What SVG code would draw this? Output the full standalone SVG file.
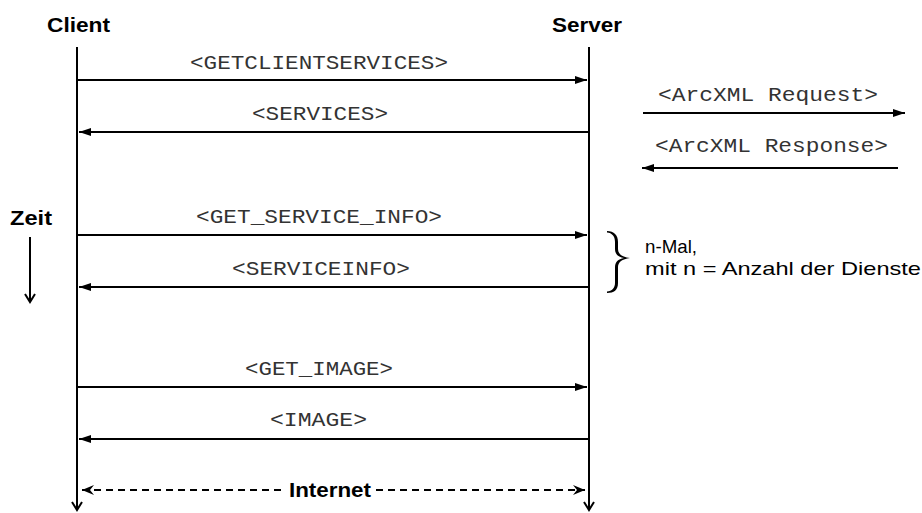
<svg xmlns="http://www.w3.org/2000/svg" width="922" height="513" viewBox="0 0 922 513">
  <style>
    .bg { fill: #ffffff; }
    .head { font-family: "Liberation Sans", Arial, sans-serif; font-weight: bold; font-size: 20px; fill: #000; }
    .msg { font-family: "Courier New", "Nimbus Mono PS", "Nimbus Mono L", FreeMono, "Liberation Mono", monospace; font-size: 20px; fill: #333; }
    .note { font-family: "Liberation Sans", Arial, sans-serif; font-size: 19px; fill: #000; }
    .life { stroke: #000; stroke-width: 2; fill: none; }
    .arrow { stroke: #000; stroke-width: 2; fill: none; }
    .dash { stroke: #000; stroke-width: 2; fill: none; stroke-dasharray: 7 5; }
  </style>
  <defs>
    <marker id="solid" viewBox="0 0 12 8" refX="12" refY="4" markerWidth="12" markerHeight="8" markerUnits="userSpaceOnUse" orient="auto-start-reverse">
      <path d="M0,0 L12,4 L0,8 Z" fill="#000"/>
    </marker>
    <marker id="open" viewBox="0 0 12 12" refX="10" refY="6" markerWidth="12" markerHeight="12" markerUnits="userSpaceOnUse" orient="auto-start-reverse">
      <path d="M2,1 L10,6 L2,11" fill="none" stroke="#000" stroke-width="2"/>
    </marker>
    <marker id="dart" viewBox="0 0 12 10" refX="12" refY="5" markerWidth="12" markerHeight="10" markerUnits="userSpaceOnUse" orient="auto-start-reverse">
      <path d="M0,0 L12,5 L0,10 L4,5 Z" fill="#000"/>
    </marker>
  </defs>

  <rect class="bg" x="0" y="0" width="922" height="513"/>

  <g id="client">
    <text class="head" x="47" y="32" textLength="63" lengthAdjust="spacingAndGlyphs">Client</text>
    <line class="life" x1="77" y1="47" x2="77" y2="510" marker-end="url(#open)"/>
  </g>

  <g id="server">
    <text class="head" x="552" y="32" textLength="70" lengthAdjust="spacingAndGlyphs">Server</text>
    <line class="life" x1="589" y1="47" x2="589" y2="510" marker-end="url(#open)"/>
  </g>

  <g id="time">
    <text class="head" x="10" y="225" textLength="42" lengthAdjust="spacingAndGlyphs">Zeit</text>
    <line class="arrow" x1="30" y1="237" x2="30" y2="302" marker-end="url(#open)"/>
  </g>

  <g id="legend">
    <text class="msg" x="658" y="101" textLength="220" lengthAdjust="spacingAndGlyphs">&lt;ArcXML Request&gt;</text>
    <line class="arrow" x1="643" y1="113" x2="905" y2="113" marker-end="url(#solid)"/>
    <text class="msg" x="655" y="152" textLength="233" lengthAdjust="spacingAndGlyphs">&lt;ArcXML Response&gt;</text>
    <line class="arrow" x1="898" y1="168" x2="642" y2="168" marker-end="url(#solid)"/>
  </g>

  <g id="repeat-note">
    <!-- curly brace, thicker along the stems like a serif glyph -->
    <path d="M607,231 C614,231 618,235 618,242 L618,249 C618,254 622,257 630,258 C622,259 618,262 618,267 L618,283 C618,290 614,293 607,293 L607,291.5 C612,291 615,288 615,283 L615,267 C615,262 618,259 624,258 C618,257 615,254 615,249 L615,242 C615,236 612,233 607,232.5 Z" fill="#000"/>
    <text class="note" x="645" y="253" textLength="52" lengthAdjust="spacingAndGlyphs">n-Mal,</text>
    <text class="note" x="645" y="275" textLength="276" lengthAdjust="spacingAndGlyphs">mit n = Anzahl der Dienste</text>
  </g>

  <g id="connectors">
    <g id="msg-getclientservices">
      <text class="msg" x="190" y="69" textLength="258" lengthAdjust="spacingAndGlyphs">&lt;GETCLIENTSERVICES&gt;</text>
      <line class="arrow" x1="78" y1="80" x2="587" y2="80" marker-end="url(#solid)"/>
    </g>
    <g id="msg-services">
      <text class="msg" x="252" y="120" textLength="136" lengthAdjust="spacingAndGlyphs">&lt;SERVICES&gt;</text>
      <line class="arrow" x1="588" y1="132" x2="79" y2="132" marker-end="url(#solid)"/>
    </g>
    <g id="msg-get-service-info">
      <text class="msg" x="196" y="223" textLength="246" lengthAdjust="spacingAndGlyphs">&lt;GET_SERVICE_INFO&gt;</text>
      <line class="arrow" x1="78" y1="235" x2="587" y2="235" marker-end="url(#solid)"/>
    </g>
    <g id="msg-serviceinfo">
      <text class="msg" x="232" y="275" textLength="178" lengthAdjust="spacingAndGlyphs">&lt;SERVICEINFO&gt;</text>
      <line class="arrow" x1="588" y1="287" x2="79" y2="287" marker-end="url(#solid)"/>
    </g>
    <g id="msg-get-image">
      <text class="msg" x="245" y="375" textLength="148" lengthAdjust="spacingAndGlyphs">&lt;GET_IMAGE&gt;</text>
      <line class="arrow" x1="78" y1="387" x2="587" y2="387" marker-end="url(#solid)"/>
    </g>
    <g id="msg-image">
      <text class="msg" x="270" y="426" textLength="97" lengthAdjust="spacingAndGlyphs">&lt;IMAGE&gt;</text>
      <line class="arrow" x1="588" y1="439" x2="79" y2="439" marker-end="url(#solid)"/>
    </g>
    <g id="internet">
      <line class="dash" x1="82" y1="490" x2="284" y2="490" marker-start="url(#dart)"/>
      <line class="dash" x1="376" y1="490" x2="585" y2="490" marker-end="url(#dart)"/>
      <text class="head" x="289" y="497" textLength="82" lengthAdjust="spacingAndGlyphs">Internet</text>
    </g>
  </g>
</svg>
